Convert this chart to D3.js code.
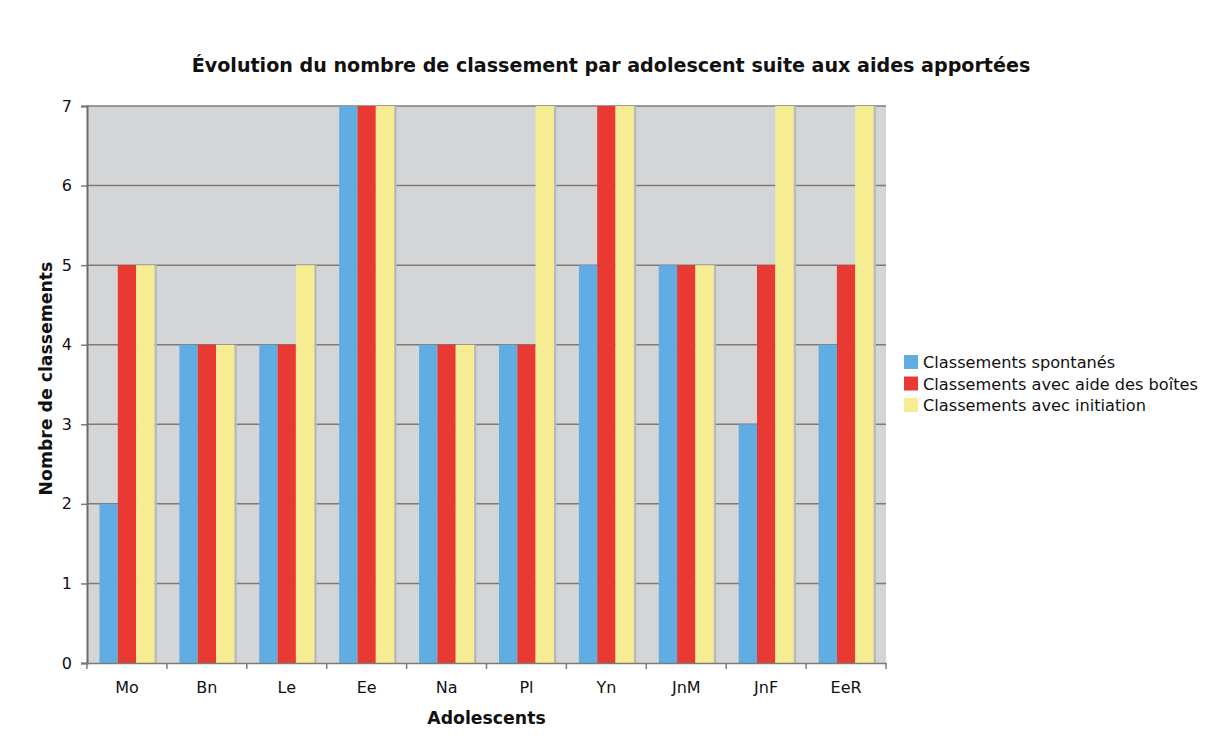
<!DOCTYPE html>
<html>
<head>
<meta charset="utf-8">
<script src="https://cdn.jsdelivr.net/npm/d3@7"></script>
<style>
  body { margin: 0; background: #fff; }
  text { font-family: "DejaVu Sans", Verdana, sans-serif; fill: #111; }
</style>
</head>
<body>
<div id="chart"></div>
<script>
// Data
const adolescents = ["Mo", "Bn", "Le", "Ee", "Na", "Pl", "Yn", "JnM", "JnF", "EeR"];
const spontanes = [2, 4, 4, 7, 4, 4, 5, 5, 3, 4];
const aideBoites = [5, 4, 4, 7, 4, 4, 7, 5, 5, 5];
const initiation = [5, 4, 5, 7, 4, 7, 7, 5, 7, 7];
const seriesNames = ["Classements spontanés", "Classements avec aide des boîtes", "Classements avec initiation"];
const seriesColors = ["#5fade2", "#e83a32", "#f6ec92"];
const yTicks = [0, 1, 2, 3, 4, 5, 6, 7];

const width = 1211, height = 738;
const margin = { top: 106, right: 325, bottom: 75, left: 87 };
const innerW = width - margin.left - margin.right;
const innerH = height - margin.top - margin.bottom;

const svg = d3.select("#chart").append("svg")
    .attr("width", width)
    .attr("height", height);

// Title
svg.append("text")
    .attr("x", 611)
    .attr("y", 72)
    .attr("text-anchor", "middle")
    .style("font-size", "19.1px")
    .style("font-weight", "bold")
    .text("Évolution du nombre de classement par adolescent suite aux aides apportées");

const g = svg.append("g").attr("transform", `translate(${margin.left},${margin.top})`);

const x0 = d3.scaleBand()
    .domain(adolescents)
    .range([0, innerW])
    .paddingInner(0.3125)
    .paddingOuter(0.15625);

const x1 = d3.scaleBand()
    .domain(d3.range(3))
    .range([0, x0.bandwidth()]);

const y = d3.scaleLinear().domain([0, 7]).range([innerH, 0]);

// Plot background
g.append("rect")
    .attr("width", innerW)
    .attr("height", innerH)
    .attr("fill", "#d4d5d7");

// Gridlines
g.selectAll(".grid")
    .data(yTicks.slice(1))
    .join("line")
    .attr("x1", 0).attr("x2", innerW)
    .attr("y1", d => y(d)).attr("y2", d => y(d))
    .attr("stroke", "#7d7b7a")
    .attr("stroke-width", 1.5);

// Build rows from the arrays
const rows = adolescents.map((a, i) => ({ name: a, values: [spontanes[i], aideBoites[i], initiation[i]] }));

const groups = g.selectAll(".group")
    .data(rows)
    .join("g")
    .attr("transform", d => `translate(${x0(d.name)},0)`);

// faint shadow to the right of each group
groups.append("rect")
    .attr("x", x0.bandwidth())
    .attr("y", d => y(d.values[2]))
    .attr("width", 2.5)
    .attr("height", d => innerH - y(d.values[2]))
    .attr("fill", "#b9babc");

groups.selectAll("rect.bar")
    .data(d => d.values.map((v, k) => ({ k, v })))
    .join("rect")
    .attr("class", "bar")
    .attr("x", d => x1(d.k))
    .attr("y", d => y(d.v))
    .attr("width", x1.bandwidth())
    .attr("height", d => innerH - y(d.v))
    .attr("fill", d => seriesColors[d.k]);

// Y axis
const yAxis = g.append("g")
    .call(d3.axisLeft(y).tickValues(yTicks).tickSize(6).tickPadding(9).tickFormat(d3.format("d")));
yAxis.select(".domain").attr("stroke", "#6e6a68").attr("stroke-width", 2);
yAxis.selectAll(".tick line").attr("stroke", "#7d7b7a").attr("stroke-width", 1.5);
yAxis.selectAll(".tick text").style("font-size", "16px").style("font-family", "DejaVu Sans, sans-serif").attr("fill", "#111");

// X axis
const xAxis = g.append("g")
    .attr("transform", `translate(0,${innerH})`)
    .call(d3.axisBottom(x0).tickSize(0).tickPadding(19));
xAxis.select(".domain").attr("stroke", "#7d7b7a").attr("stroke-width", 1.5);
xAxis.selectAll(".tick text").style("font-size", "16px").style("font-family", "DejaVu Sans, sans-serif").attr("fill", "#111");

// ticks between categories
const step = x0.step();
g.append("g").selectAll("line")
    .data(d3.range(adolescents.length + 1))
    .join("line")
    .attr("x1", d => d * step).attr("x2", d => d * step)
    .attr("y1", innerH).attr("y2", innerH + 6)
    .attr("stroke", "#7d7b7a")
    .attr("stroke-width", 1.5);

// Axis titles
svg.append("text")
    .attr("x", margin.left + innerW / 2)
    .attr("y", 724)
    .attr("text-anchor", "middle")
    .style("font-size", "17.3px")
    .style("font-weight", "bold")
    .text("Adolescents");

svg.append("text")
    .attr("transform", `translate(52,${margin.top + innerH / 2 - 6}) rotate(-90)`)
    .attr("text-anchor", "middle")
    .style("font-size", "17.3px")
    .style("font-weight", "bold")
    .text("Nombre de classements");

// Legend
const legend = svg.append("g").attr("transform", "translate(904,355)");
const items = legend.selectAll("g")
    .data(seriesNames)
    .join("g")
    .attr("transform", (d, i) => `translate(0,${i * 21.5})`);
items.append("rect")
    .attr("width", 14).attr("height", 14)
    .attr("fill", (d, i) => seriesColors[i]);
items.append("text")
    .attr("x", 19)
    .attr("y", 13)
    .style("font-size", "16.2px")
    .text(d => d);
</script>
</body>
</html>
